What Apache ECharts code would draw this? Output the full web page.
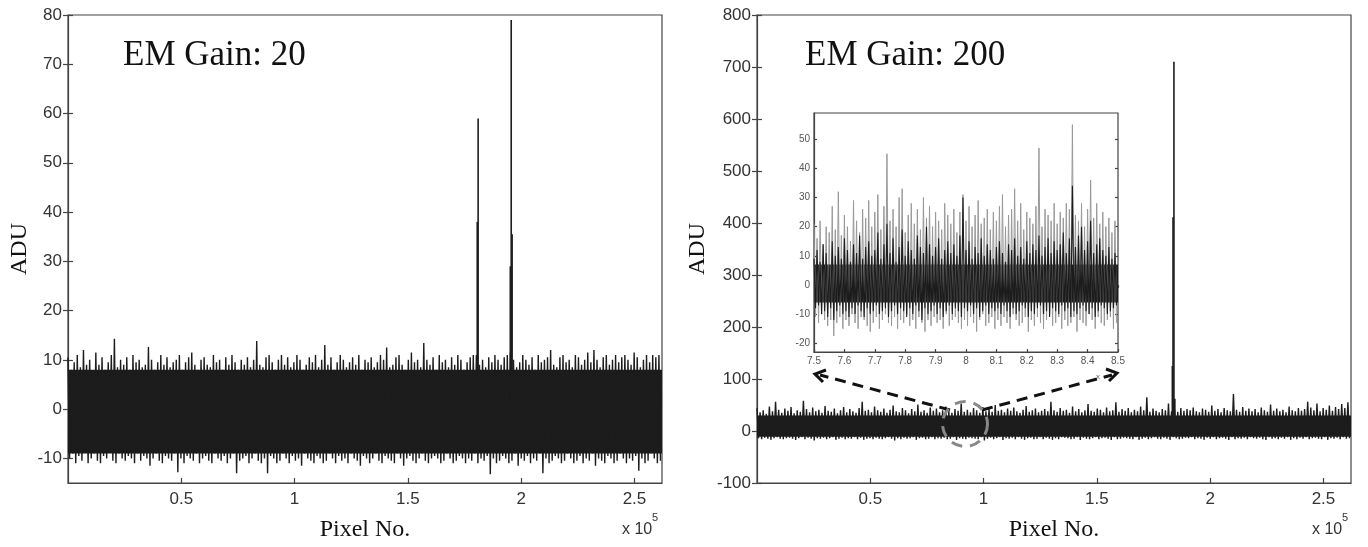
<!DOCTYPE html>
<html><head><meta charset="utf-8">
<script src="https://cdn.jsdelivr.net/npm/echarts@6/dist/echarts.min.js"></script>
<style>html,body{margin:0;padding:0;background:#fff}#c{width:1368px;height:547px}</style>
</head><body><div id="c"></div>
<script>
// ---------- data ----------
const totalPixels = 262144;
const leftTitle = 'EM Gain: 20';
const rightTitle = 'EM Gain: 200';
const yName = 'ADU';
const xName = 'Pixel No.';

const leftYTicks = [-10, 0, 10, 20, 30, 40, 50, 60, 70, 80];
const rightYTicks = [-100, 0, 100, 200, 300, 400, 500, 600, 700, 800];
const mainXTicks = [50000, 100000, 150000, 200000, 250000];
const insetYTicks = [-20, -10, 0, 10, 20, 30, 40, 50];
const insetXTicks = [75000, 76000, 77000, 78000, 79000, 80000, 81000, 82000, 83000, 84000, 85000];

// Gain 20: noise envelope, 192 bins across the frame
const leftCore = [-9, 8];
const leftHi = [10.5,8,9.5,11,8.5,12,9,10,7.5,11.5, 9,10.5,8,9.5,11,14.3,8.5,10,9,10.5,
  8,11,9.5,10,8.5,9,12.6,10,8,9.5, 11,9,10.5,8.5,9.5,10,11,8,9.5,10.5,
  11.5,9,8,10,10.5,9,8.5,11,9.5,10, 8,10.5,9,11,9.5,8,10,9,10.5,8.5,
  10,13.8,9,8.5,10.5,11,9.5,8,10,11, 9,10.5,8.5,9.5,11,10,8,9,10.5,9.5,
  11,8.5,10,13,9,10.5,8,9.5,11,10, 8.5,9.5,10.5,9,11,8,10,9.5,10.5,8.5,
  9.5,11,10,12.5,8.5,9,10.5,11,9,8, 10,11.5,9.5,10,8.5,13.4,10,9,10.5,8,
  11,9.5,10,8.5,10.5,9,11,10,8,9.5, 10.5,11,11,9,10,8.5,10.5,9.5,11,10,
  9,10.5,11,11.5,10,8.5,9.5,11,10,9, 10.5,8,11,9.5,10,10.5,12,9,8.5,10.5,
  11,9.5,10,8.5,11,10.5,9,10,11.5,9.5, 12,10,8.5,10.5,11,9,10,11,9.5,10.5,
  11,10,9,11.5,10.5,8.5,10,11,9.5,11, 10.5,11];
const leftLo = [-10,-9,-11,-9.5,-10.5,-8.5,-11,-10,-9,-10.5, -11,-9.5,-10,-8.5,-10.5,-11,-9,-10,-10.5,-9.5,
  -10,-11,-9,-10.5,-9.5,-10,-11.5,-10,-9,-10.5, -11,-9.5,-10,-10.5,-9,-12.8,-10,-11,-9.5,-10,
  -10.5,-9,-11,-10,-9.5,-10.5,-11,-9,-10,-10.5, -9.5,-11,-10,-9,-13,-10.5,-10,-9.5,-11,-10,
  -9,-10.5,-11,-10,-13,-9.5,-10,-11,-10.5,-9, -10,-11,-9.5,-10.5,-10,-11.5,-9,-10,-10.5,-11,
  -9.5,-10,-11,-10.5,-9,-10,-11,-9.5,-10.5,-10, -11,-9,-10,-10.5,-11.5,-9.5,-10,-11,-10,-9,
  -10.5,-11,-9.5,-10,-10.5,-11,-9,-10,-11.5,-10, -9.5,-10.5,-11,-10,-9,-10.5,-11,-10,-9.5,-10,
  -11,-10.5,-9,-10,-11,-10.5,-9.5,-10,-11,-10, -10.5,-9,-11,-10,-10.5,-9.5,-13.2,-10,-11,-10.5,
  -9.5,-10,-11,-10.5,-9,-11.5,-10,-10.5,-9.5,-11, -10,-10.5,-9,-13,-10,-11,-10.5,-9.5,-10,-11,
  -10.5,-9,-10,-11,-10.5,-9.5,-11,-10,-10.5,-9, -11.5,-10,-10.5,-11,-9.5,-10,-11,-10.5,-9,-10,
  -11,-10,-10.5,-9.5,-12.5,-10,-11,-10.5,-9,-10, -11,-10.5];
const leftSpikes = [[180600, 38], [181000, 59], [195200, 29], [195600, 79], [196000, 35.5]];

// Gain 200: noise envelope, 192 bins
const rightCore = [-11, 30];
const rightHi = [44,36,40,33,47,38,56,41,35,43, 39,46,34,40,37,58,42,36,45,38,
  41,35,48,39,37,43,34,40,46,36, 42,38,35,44,56,39,41,36,47,40,
  37,43,35,41,49,38,36,44,40,34, 42,38,51,37,40,35,45,39,43,36,
  40,47,38,35,42,39,53,37,41,36, 44,40,35,46,38,42,37,50,39,41,
  36,43,39,45,38,35,41,48,37,40, 43,36,39,42,38,56,40,37,44,39,
  41,35,47,38,42,36,40,52,39,37, 43,41,36,45,38,40,55,37,42,39,
  44,36,41,38,47,40,65,37,43,39, 36,42,40,53,38,41,37,44,39,42,
  40,45,38,36,43,41,37,49,39,42, 36,44,40,38,71,41,37,46,39,43,
  38,42,36,45,40,37,51,39,43,38, 41,36,47,40,38,44,39,42,56,45,
  40,53,38,44,41,49,39,46,42,52, 44,55];
const rightLo = [-14,-16,-13,-15,-17,-14,-12,-15,-16,-14, -13,-15,-17,-14,-12,-16,-13,-15,-18,-14,
  -15,-13,-16,-14,-12,-17,-15,-13,-16,-14, -15,-12,-16,-13,-17,-15,-14,-16,-13,-15,
  -16,-14,-12,-15,-18,-14,-16,-13,-15,-14, -12,-17,-14,-13,-16,-15,-12,-16,-14,-15,
  -13,-16,-15,-12,-17,-14,-15,-16,-13,-14, -15,-16,-12,-18,-15,-13,-16,-14,-12,-17,
  -14,-15,-13,-16,-12,-15,-17,-14,-13,-16, -15,-12,-16,-13,-15,-17,-14,-16,-12,-13,
  -14,-16,-15,-12,-17,-13,-15,-16,-14,-12, -16,-14,-13,-15,-17,-12,-16,-15,-13,-14,
  -15,-16,-12,-17,-15,-13,-16,-14,-12,-15, -16,-13,-15,-17,-12,-14,-16,-15,-13,-14,
  -12,-16,-14,-15,-17,-13,-15,-12,-16,-14, -13,-15,-17,-12,-16,-14,-15,-13,-16,-12,
  -14,-15,-13,-16,-17,-12,-15,-14,-16,-13, -15,-12,-17,-14,-16,-13,-15,-12,-16,-14,
  -13,-15,-16,-12,-17,-14,-15,-13,-16,-12, -15,-14];
const rightSpikes = [[183300, 125], [183600, 411], [184000, 710], [184400, 62]];

// Inset: pixels 75000 - 85000 of the gain-200 frame, 100 bins
const insetRange = [75000, 85000];
const insetCore = [-6, 7];
const insetHi = [21,16,22,14,20,18,27,19,32,17, 24,20,15,29,22,18,26,23,29,20,
  25,31,19,27,45,22,26,20,30,33, 18,24,28,21,26,19,30,23,27,20,
  25,22,19,28,24,21,26,18,25,31, 22,27,20,24,29,21,23,26,19,25,
  22,27,31,20,24,26,33,22,28,19, 25,23,21,27,47,20,26,24,22,28,
  21,25,23,28,26,55,24,22,28,20, 26,36,23,28,21,25,20,23,18,22];
const insetHiDark = [9,12,8,14,11,7,15,10,13,9, 16,12,8,14,11,17,9,13,15,10,
  12,18,9,14,21,11,16,8,13,19, 10,15,12,9,17,13,11,20,14,10,
  13,16,9,12,15,11,14,10,17,30, 12,15,9,13,11,16,10,14,12,9,
  13,15,11,8,14,12,16,10,13,9, 15,11,14,12,17,10,13,16,11,15,
  12,14,18,11,16,34,13,17,20,12, 15,22,11,14,16,12,10,13,9,11];
const insetLo = [-11,-13,-10,-12,-14,-12,-17.5,-13,-11,-15, -12,-14,-10,-13,-15,-11,-12,-14,-16,-13,
  -11,-15,-12,-10,-13,-14,-11,-15,-12,-13, -10,-14,-12,-15,-11,-13,-16,-12,-14,-11,
  -13,-12,-15,-10,-14,-12,-11,-13,-15,-12, -14,-11,-13,-16,-12,-10,-14,-13,-11,-15,
  -12,-14,-11,-13,-15,-10,-12,-14,-13,-11, -16,-12,-14,-11,-13,-15,-12,-10,-14,-13,
  -11,-15,-12,-14,-13,-11,-16,-12,-13,-14, -10,-12,-15,-11,-13,-14,-12,-11,-15,-13];
const insetLoDark = [-8,-7,-10,-9,-11,-8,-12,-9,-7,-10, -9,-11,-8,-10,-7,-9,-11,-8,-10,-9,
  -7,-10,-9,-8,-11,-9,-7,-10,-8,-9, -11,-8,-10,-7,-9,-12,-8,-10,-9,-7,
  -10,-8,-11,-9,-7,-10,-8,-9,-11,-8, -9,-7,-10,-8,-11,-9,-7,-10,-8,-9,
  -8,-10,-7,-9,-11,-8,-10,-9,-7,-8, -11,-9,-10,-8,-7,-10,-9,-11,-8,-9,
  -10,-7,-9,-8,-11,-9,-10,-8,-7,-9, -10,-8,-11,-9,-7,-8,-10,-9,-8,-7];

// ---------- build ----------
function zigzag(x0, span, hi, lo) {
  const w = span / hi.length, pts = [];
  for (let i = 0; i < hi.length; i++) {
    pts.push([x0 + i * w, hi[i]]);
    pts.push([x0 + (i + 0.5) * w, lo[i]]);
  }
  return pts;
}
const BLACK = '#1c1c1c';
const AX = '#444';
const numFont = 'Liberation Sans';
const serif = 'Liberation Serif';

const grids = [
  { left: 68, top: 15, width: 594, height: 468 },
  { left: 757, top: 15, width: 594, height: 468 },
  { left: 814, top: 113, width: 304, height: 239 }
].map(g => Object.assign({ show: true, borderColor: AX, borderWidth: 1.2, backgroundColor: '#fff', containLabel: false, outerBoundsMode: 'none' }, g));

function xAx(gi, min, max, ticks, fmt, opts) {
  const inset = gi === 2;
  return [
    Object.assign({
      type: 'value', gridIndex: gi, min, max, position: 'bottom',
      axisLine: { show: true, onZero: false, lineStyle: { color: AX, width: 1.2 } },
      axisTick: { show: true, inside: true, length: inset ? 3 : 5, customValues: ticks, lineStyle: { color: AX, width: 1.2 } },
      axisLabel: { show: true, customValues: ticks, formatter: fmt, color: inset ? '#555' : '#333', fontFamily: numFont, fontSize: inset ? 10 : 17, margin: inset ? 4 : 8 },
      splitLine: { show: false }
    }, opts || {}),
    {
      type: 'value', gridIndex: gi, min, max, position: 'top',
      axisLine: { show: false },
      axisTick: { show: true, inside: true, length: inset ? 3 : 5, customValues: ticks, lineStyle: { color: AX, width: 1.2 } },
      axisLabel: { show: false }, splitLine: { show: false }
    }
  ];
}
function yAx(gi, min, max, ticks, opts) {
  const inset = gi === 2;
  return [
    Object.assign({
      type: 'value', gridIndex: gi, min, max, position: 'left',
      axisLine: { show: true, onZero: false, lineStyle: { color: AX, width: 1.2 } },
      axisTick: { show: true, inside: true, length: inset ? 3 : 5, customValues: ticks, lineStyle: { color: AX, width: 1.2 } },
      axisLabel: { show: true, customValues: ticks, color: inset ? '#555' : '#333', fontFamily: numFont, fontSize: inset ? 10 : 17, margin: inset ? 4 : 6 },
      splitLine: { show: false }
    }, opts || {}),
    {
      type: 'value', gridIndex: gi, min, max, position: 'right',
      axisLine: { show: false },
      axisTick: { show: true, inside: true, length: inset ? 3 : 5, customValues: ticks, lineStyle: { color: AX, width: 1.2 } },
      axisLabel: { show: false }, splitLine: { show: false }
    }
  ];
}
const mainFmt = v => String(Math.round(v / 10000) / 10);
const insetFmt = v => String(Math.round(v / 1000) / 10);
const axisNameStyle = { fontFamily: serif, fontSize: 24, color: '#111' };

const xAxis = [
  ...xAx(0, 0, totalPixels, mainXTicks, mainFmt, { name: xName, nameLocation: 'middle', nameGap: 35, nameTextStyle: axisNameStyle }),
  ...xAx(1, 0, totalPixels, mainXTicks, mainFmt, { name: xName, nameLocation: 'middle', nameGap: 35, nameTextStyle: axisNameStyle }),
  ...xAx(2, insetRange[0], insetRange[1], insetXTicks, insetFmt)
];
const yAxis = [
  ...yAx(0, -15, 80, leftYTicks, { name: yName, nameLocation: 'middle', nameGap: 36, nameRotate: 90, nameTextStyle: axisNameStyle }),
  ...yAx(1, -100, 800, rightYTicks, { name: yName, nameLocation: 'middle', nameGap: 47, nameRotate: 90, nameTextStyle: axisNameStyle }),
  ...yAx(2, -23, 59, insetYTicks)
];

function band(xi, yi, pts, core, color, width, z) {
  const s = {
    type: 'line', xAxisIndex: xi, yAxisIndex: yi, data: pts, showSymbol: false, symbol: 'none',
    lineStyle: { color, width }, z, silent: true, clip: true
  };
  if (core) s.markArea = { silent: true, itemStyle: { color: BLACK, opacity: 1 }, data: [[{ yAxis: core[0] }, { yAxis: core[1] }]] };
  return s;
}
function spikes(xi, yi, data) {
  return { type: 'bar', xAxisIndex: xi, yAxisIndex: yi, data, barWidth: 1.6, itemStyle: { color: BLACK }, z: 4, silent: true };
}

const series = [
  band(0, 0, zigzag(0, totalPixels, leftHi, leftLo), leftCore, BLACK, 1.4, 3),
  spikes(0, 0, leftSpikes),
  band(2, 2, zigzag(0, totalPixels, rightHi, rightLo), rightCore, BLACK, 1.4, 3),
  spikes(2, 2, rightSpikes),
  band(4, 4, zigzag(insetRange[0], insetRange[1] - insetRange[0], insetHi, insetLo), null, '#999', 1, 3),
  band(4, 4, zigzag(insetRange[0], insetRange[1] - insetRange[0], insetHiDark, insetLoDark), insetCore, BLACK, 1.1, 4)
];

const dashStyle = { stroke: '#111', lineWidth: 3, lineDash: [11, 7], fill: null };
const headStyle = { stroke: '#111', lineWidth: 3, fill: null };
const graphic = [
  { type: 'text', x: 123, y: 56, z: 50, style: { text: leftTitle, fontFamily: serif, fontSize: 35, fill: '#111', textAlign: 'left', textVerticalAlign: 'middle' } },
  { type: 'text', x: 805, y: 56, z: 50, style: { text: rightTitle, fontFamily: serif, fontSize: 35, fill: '#111', textAlign: 'left', textVerticalAlign: 'middle' } },
  { type: 'text', x: 622, y: 530, z: 50, style: { text: 'x 10', fontFamily: numFont, fontSize: 16, fill: '#333', textVerticalAlign: 'middle' } },
  { type: 'text', x: 652, y: 518, z: 50, style: { text: '5', fontFamily: numFont, fontSize: 11, fill: '#333', textVerticalAlign: 'middle' } },
  { type: 'text', x: 1312, y: 530, z: 50, style: { text: 'x 10', fontFamily: numFont, fontSize: 16, fill: '#333', textVerticalAlign: 'middle' } },
  { type: 'text', x: 1342, y: 518, z: 50, style: { text: '5', fontFamily: numFont, fontSize: 11, fill: '#333', textVerticalAlign: 'middle' } },
  { type: 'text', x: 1096, y: 377, z: 50, style: { text: 'x', fontFamily: numFont, fontSize: 8, fill: '#666', textVerticalAlign: 'middle' } },
  { type: 'line', z: 60, shape: { x1: 950, y1: 410, x2: 820, y2: 375 }, style: dashStyle },
  { type: 'polyline', z: 60, shape: { points: [[826, 370], [815, 374], [823, 382]] }, style: headStyle },
  { type: 'line', z: 60, shape: { x1: 982, y1: 410, x2: 1112, y2: 375 }, style: dashStyle },
  { type: 'polyline', z: 60, shape: { points: [[1106, 369], [1117, 373], [1109, 381]] }, style: headStyle },
  { type: 'circle', z: 60, shape: { cx: 965, cy: 424, r: 22.5 }, style: { stroke: '#888', lineWidth: 3, lineDash: [11, 8], fill: null } }
];

const chart = echarts.init(document.getElementById('c'), null, { renderer: 'canvas' });
chart.setOption({ animation: false, backgroundColor: '#fff', grid: grids, xAxis, yAxis, series, graphic });
</script></body></html>
